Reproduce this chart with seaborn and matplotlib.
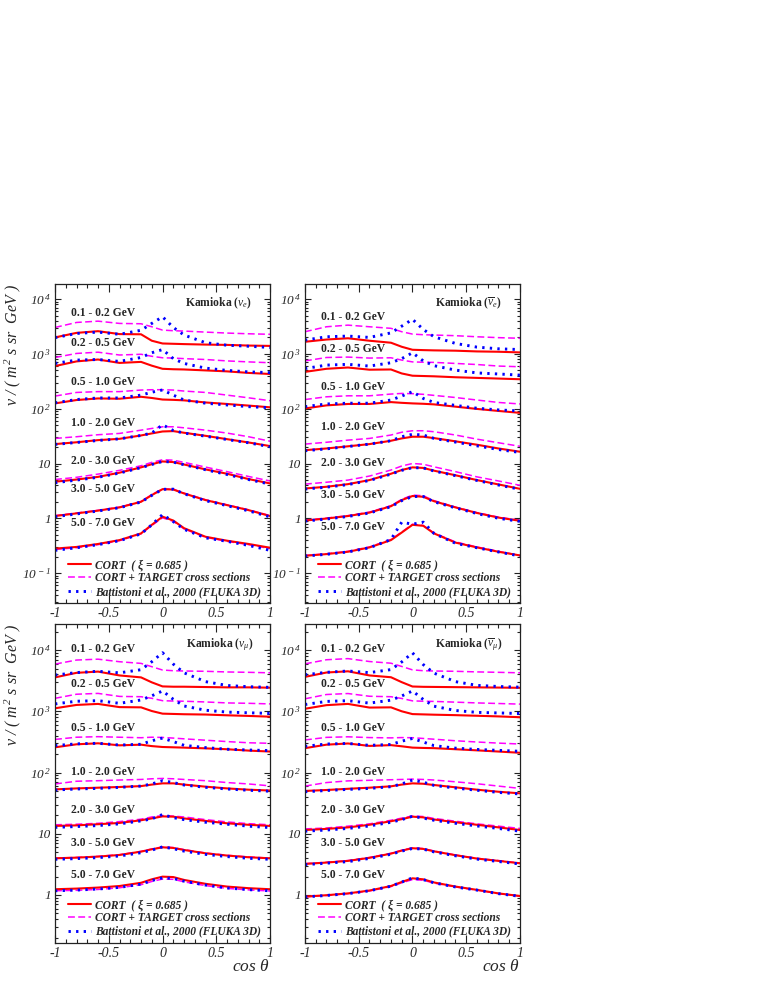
import numpy as np
import pandas as pd
import matplotlib
matplotlib.use('Agg')
import matplotlib.pyplot as plt
import seaborn as sns
from matplotlib.lines import Line2D
from matplotlib.ticker import MultipleLocator, LogLocator, FuncFormatter, NullFormatter

sns.set_theme(style='ticks')
plt.rcParams['font.family'] = ['Liberation Serif', 'DejaVu Serif']
plt.rcParams['font.style'] = 'italic'
plt.rcParams['axes.unicode_minus'] = False
plt.rcParams['mathtext.fontset'] = 'custom'
plt.rcParams['mathtext.rm'] = 'Liberation Serif:italic'
plt.rcParams['mathtext.it'] = 'Liberation Serif:italic'
plt.rcParams['mathtext.sf'] = 'Liberation Serif'
plt.rcParams['mathtext.bf'] = 'Liberation Serif:bold'

# cos(theta) grid and energy bins
cos_theta = [-1, -0.8, -0.6, -0.4, -0.2, -0.1, 0, 0.1, 0.2, 0.4, 0.6, 0.8, 1]
energy_bins = ['0.1 - 0.2 GeV', '0.2 - 0.5 GeV', '0.5 - 1.0 GeV', '1.0 - 2.0 GeV',
               '2.0 - 3.0 GeV', '3.0 - 5.0 GeV', '5.0 - 7.0 GeV']

# Kamioka nu_e
nue_cort = [
    [2000, 2420, 2600, 2300, 2280, 1740, 1550, 1530, 1510, 1480, 1460, 1420, 1400],
    [600, 730, 790, 685, 715, 610, 535, 525, 520, 500, 480, 450, 430],
    [125, 144, 154, 152, 165, 157, 147, 145, 142, 130, 122, 114, 106],
    [22.6, 24.4, 26.7, 28.2, 32.5, 35.4, 38.4, 39.0, 36.4, 32.0, 27.8, 24.2, 20.8],
    [4.65, 5.1, 5.7, 6.8, 8.5, 9.7, 10.9, 10.6, 9.6, 7.8, 6.5, 5.2, 4.33],
    [1.10, 1.23, 1.38, 1.58, 2.0, 2.65, 3.4, 3.35, 2.84, 2.15, 1.74, 1.41, 1.10],
    [0.28, 0.30, 0.34, 0.40, 0.53, 0.76, 1.07, 0.91, 0.66, 0.46, 0.39, 0.34, 0.29],
]
nue_target = [
    [3040, 3750, 3960, 3600, 3550, 3130, 2720, 2650, 2610, 2500, 2400, 2330, 2280],
    [860, 1020, 1075, 955, 985, 905, 850, 840, 820, 790, 745, 715, 690],
    [170, 198, 205, 205, 219, 222, 222, 219, 210, 198, 177, 158, 140],
    [28.7, 30.8, 33.5, 35.4, 40.6, 43.6, 46.8, 46.8, 44.8, 40.6, 35.9, 30.8, 25.5],
    [5.1, 5.6, 6.4, 7.5, 9.1, 10.5, 11.7, 11.5, 10.5, 8.6, 7.1, 5.8, 4.8],
    [1.12, 1.25, 1.4, 1.6, 2.03, 2.7, 3.45, 3.4, 2.88, 2.18, 1.76, 1.43, 1.12],
    [0.27, 0.29, 0.33, 0.39, 0.52, 0.74, 1.02, 0.88, 0.64, 0.45, 0.38, 0.33, 0.28],
]
nue_fluka = [
    [1980, 2360, 2500, 2280, 2700, 3600, 4760, 3040, 2210, 1600, 1440, 1380, 1310],
    [670, 771, 790, 730, 860, 1050, 1200, 820, 670, 550, 500, 470, 455],
    [128, 147, 157, 157, 177, 200, 220, 177, 144, 126, 117, 109, 104],
    [22.3, 24.2, 26.3, 28.2, 32.5, 35.9, 51, 40, 35.9, 31.5, 27.4, 23.9, 20.2],
    [4.45, 4.98, 5.6, 6.7, 8.4, 9.6, 10.9, 10.6, 9.5, 7.7, 6.3, 5.1, 4.2],
    [1.07, 1.2, 1.36, 1.56, 1.98, 2.62, 3.38, 3.4, 2.8, 2.1, 1.7, 1.37, 1.06],
    [0.26, 0.29, 0.33, 0.39, 0.52, 0.76, 1.17, 0.87, 0.63, 0.44, 0.38, 0.32, 0.26],
]

# Kamioka anti-nu_e
nuebar_cort = [
    [1665, 1830, 1930, 1740, 1600, 1350, 1190, 1173, 1160, 1145, 1110, 1095, 1065],
    [470, 535, 565, 515, 520, 440, 400, 395, 390, 375, 365, 355, 345],
    [101, 115, 122, 122, 132, 128, 125, 123, 120, 109, 99, 91, 84],
    [17.5, 18.8, 20.6, 22.6, 26.0, 28.7, 30.8, 30.8, 29.1, 25.4, 22.0, 18.8, 16.4],
    [3.5, 3.76, 4.2, 4.98, 6.5, 7.6, 8.5, 8.3, 7.4, 6.1, 4.98, 4.15, 3.45],
    [0.91, 0.99, 1.1, 1.27, 1.66, 2.15, 2.55, 2.47, 2.05, 1.58, 1.25, 1.03, 0.90],
    [0.207, 0.222, 0.245, 0.294, 0.40, 0.55, 0.76, 0.73, 0.53, 0.36, 0.294, 0.245, 0.21],
]
nuebar_target = [
    [2540, 3130, 3350, 3130, 2930, 2540, 2300, 2240, 2210, 2150, 2055, 1980, 1930],
    [745, 860, 875, 840, 850, 771, 715, 705, 700, 670, 640, 600, 583],
    [147, 165, 172, 172, 185, 190, 188, 183, 175, 160, 144, 130, 122],
    [22.6, 24.4, 26.7, 28.7, 33.1, 37.2, 39.6, 39.6, 38.0, 33.1, 27.8, 23.9, 20.6],
    [4.2, 4.55, 4.98, 5.9, 7.6, 9.0, 10.0, 9.7, 8.7, 7.1, 5.7, 4.8, 4.0],
    [0.93, 1.01, 1.12, 1.3, 1.7, 2.22, 2.65, 2.58, 2.1, 1.6, 1.27, 1.05, 0.92],
    [0.21, 0.225, 0.25, 0.3, 0.41, 0.56, 0.78, 0.74, 0.54, 0.37, 0.3, 0.25, 0.21],
]
nuebar_fluka = [
    [1785, 2055, 2115, 2000, 2420, 3210, 4280, 2800, 2055, 1553, 1330, 1240, 1200],
    [540, 625, 645, 600, 690, 820, 1050, 745, 610, 506, 450, 430, 410],
    [109, 122, 126, 126, 144, 170, 205, 154, 130, 115, 102, 95, 91],
    [17.1, 18.5, 20.4, 22.6, 26.0, 30.8, 34.1, 33.1, 28.7, 24.6, 21.0, 18.0, 15.9],
    [3.42, 3.7, 4.12, 4.9, 6.4, 7.5, 8.4, 8.3, 7.3, 6.0, 4.9, 4.05, 3.38],
    [0.89, 0.97, 1.08, 1.25, 1.63, 2.1, 2.5, 2.5, 2.0, 1.55, 1.22, 1.0, 0.88],
    [0.205, 0.22, 0.243, 0.29, 0.41, 0.85, 0.78, 0.85, 0.53, 0.35, 0.29, 0.243, 0.205],
]

# Kamioka nu_mu
numu_cort = [
    [3580, 4250, 4450, 3850, 3580, 2970, 2550, 2520, 2520, 2490, 2460, 2460, 2430],
    [1120, 1270, 1320, 1170, 1160, 1010, 915, 905, 895, 885, 860, 840, 816],
    [258, 289, 300, 278, 285, 270, 261, 258, 255, 248, 240, 228, 220],
    [53, 55, 56.5, 58, 60, 63.5, 66.5, 66.5, 63.5, 58.7, 55, 52.4, 50.8],
    [13.4, 13.7, 14.3, 15.0, 16.6, 17.8, 19.2, 19.0, 17.8, 16.2, 14.8, 14.0, 13.4],
    [3.97, 4.07, 4.23, 4.5, 5.1, 5.57, 6.0, 5.86, 5.43, 4.79, 4.4, 4.13, 3.97],
    [1.24, 1.27, 1.32, 1.40, 1.58, 1.80, 1.99, 1.96, 1.76, 1.52, 1.37, 1.29, 1.24],
]
numu_target = [
    [5900, 6870, 7100, 6450, 6060, 5350, 4720, 4600, 4550, 4500, 4390, 4330, 4250],
    [1630, 1900, 1960, 1750, 1730, 1630, 1490, 1470, 1460, 1420, 1370, 1350, 1320],
    [347, 377, 385, 377, 370, 377, 374, 365, 355, 337, 320, 306, 300],
    [65, 72, 73.5, 75.4, 77, 79, 80, 79, 77, 73.5, 68.5, 65, 60.5],
    [14.0, 14.3, 14.8, 15.8, 17.3, 18.8, 19.8, 19.4, 18.8, 17.0, 15.6, 14.6, 14.0],
    [4.0, 4.1, 4.27, 4.55, 5.15, 5.65, 6.1, 5.95, 5.5, 4.85, 4.45, 4.17, 4.0],
    [1.17, 1.19, 1.23, 1.31, 1.47, 1.66, 1.82, 1.8, 1.64, 1.42, 1.28, 1.21, 1.16],
]
numu_fluka = [
    [3900, 4290, 4500, 4250, 4780, 6450, 9060, 5900, 4250, 3050, 2640, 2520, 2460],
    [1320, 1460, 1490, 1350, 1530, 1790, 2150, 1570, 1220, 1040, 970, 945, 925],
    [275, 294, 300, 281, 289, 330, 365, 320, 278, 255, 240, 233, 228],
    [51.8, 53.8, 55, 57.3, 60, 65, 73.5, 68.5, 62.5, 57.3, 53.8, 51.3, 49.5],
    [12.7, 13.1, 13.6, 14.5, 16.2, 17.5, 20.6, 18.3, 17.0, 15.4, 14.3, 13.3, 12.6],
    [3.82, 3.92, 4.07, 4.33, 4.9, 5.4, 6.1, 5.7, 5.2, 4.6, 4.23, 3.97, 3.82],
    [1.17, 1.2, 1.25, 1.33, 1.5, 1.72, 1.9, 1.86, 1.68, 1.45, 1.3, 1.22, 1.17],
]

# Kamioka anti-nu_mu
numubar_cort = [
    [3650, 4300, 4500, 3850, 3600, 2990, 2540, 2510, 2500, 2480, 2460, 2440, 2420],
    [1100, 1260, 1320, 1150, 1160, 1000, 900, 890, 880, 865, 845, 825, 800],
    [250, 285, 298, 272, 280, 268, 255, 252, 250, 240, 230, 220, 210],
    [50, 51.8, 54.2, 56.5, 59.5, 63.5, 66.5, 65.5, 62.5, 57.3, 52.4, 48.5, 45.7],
    [11.5, 12.0, 12.7, 14.0, 16.0, 17.3, 19.0, 18.5, 17.1, 15.4, 14.0, 12.7, 11.5],
    [3.21, 3.38, 3.6, 4.04, 4.73, 5.3, 5.8, 5.65, 5.16, 4.46, 3.93, 3.6, 3.29],
    [0.94, 0.99, 1.06, 1.18, 1.40, 1.63, 1.87, 1.80, 1.60, 1.37, 1.21, 1.06, 0.96],
]
numubar_target = [
    [5950, 6950, 7250, 6500, 6100, 5400, 4750, 4600, 4550, 4500, 4400, 4330, 4250],
    [1600, 1880, 1950, 1760, 1730, 1620, 1480, 1460, 1450, 1410, 1370, 1340, 1310],
    [340, 375, 383, 372, 368, 372, 370, 360, 350, 330, 315, 302, 292],
    [60, 68.5, 73, 74.6, 76.2, 77, 78, 77, 75.4, 70.5, 65.5, 60, 55],
    [12.0, 12.4, 13.3, 14.5, 16.6, 18.0, 19.5, 19.1, 17.8, 16.0, 14.5, 13.3, 12.2],
    [3.25, 3.42, 3.65, 4.1, 4.8, 5.38, 5.9, 5.72, 5.22, 4.5, 3.97, 3.64, 3.33],
    [0.93, 0.98, 1.05, 1.16, 1.37, 1.58, 1.78, 1.74, 1.56, 1.35, 1.2, 1.05, 0.95],
]
numubar_fluka = [
    [3950, 4330, 4550, 4280, 4800, 6400, 9000, 5800, 4200, 3050, 2650, 2540, 2480],
    [1290, 1450, 1490, 1360, 1520, 1780, 2150, 1560, 1210, 1030, 960, 940, 920],
    [268, 292, 298, 278, 287, 325, 360, 315, 275, 250, 238, 230, 222],
    [48.5, 50.8, 53, 55, 58.7, 65, 75.4, 69.5, 61.6, 55.7, 51.3, 47.3, 44.6],
    [11.0, 11.5, 12.2, 13.4, 15.4, 17.0, 19.3, 18.0, 16.6, 14.8, 13.4, 12.2, 11.0],
    [3.13, 3.3, 3.5, 3.95, 4.62, 5.2, 5.75, 5.6, 5.05, 4.36, 3.85, 3.52, 3.2],
    [0.93, 0.98, 1.05, 1.17, 1.39, 1.62, 1.9, 1.78, 1.58, 1.35, 1.2, 1.05, 0.95],
]

legend_labels = ['CORT  ( ξ = 0.685 )', 'CORT + TARGET cross sections',
                 'Battistoni et al., 2000 (FLUKA 3D)']

RED = '#ff0000'
MAG = '#ff00ff'
BLUE = '#0000ff'
DASH = (0, (4.5, 2.2))
DOTS = (0, (0.8, 1.8))


def to_frame(table):
    rows = []
    for b, vals in zip(energy_bins, table):
        for c, v in zip(cos_theta, vals):
            rows.append((b, c, v))
    return pd.DataFrame(rows, columns=['bin', 'cos', 'flux'])


def ytick_label(v, pos):
    k = int(round(np.log10(v)))
    if k == 0:
        return '1'
    if k == 1:
        return '10'
    return r'$10^{\,%d}$' % k


def draw_panel(ax, cort, target, fluka, ylim, title, text_y, title_xy, left):
    ax.set_yscale('log')
    sns.lineplot(data=to_frame(target), x='cos', y='flux', units='bin', estimator=None,
                 color=MAG, lw=1.1, linestyle=DASH, ax=ax, legend=False)
    sns.lineplot(data=to_frame(cort), x='cos', y='flux', units='bin', estimator=None,
                 color=RED, lw=1.5, ax=ax, legend=False)
    sns.lineplot(data=to_frame(fluka), x='cos', y='flux', units='bin', estimator=None,
                 color=BLUE, lw=2.1, linestyle=DOTS, ax=ax, legend=False)

    ax.set_xlim(-1, 1)
    ax.set_ylim(*ylim)
    ax.xaxis.set_major_locator(MultipleLocator(0.5))
    ax.xaxis.set_minor_locator(MultipleLocator(0.1))
    ax.xaxis.set_major_formatter(FuncFormatter(lambda v, p: f'{v:g}'))
    ax.yaxis.set_major_locator(LogLocator(base=10, numticks=20))
    ax.yaxis.set_minor_locator(LogLocator(base=10, subs=np.arange(2, 10), numticks=100))
    ax.yaxis.set_major_formatter(FuncFormatter(ytick_label))
    ax.yaxis.set_minor_formatter(NullFormatter())
    ax.tick_params(which='both', direction='in', top=True, right=True,
                   color='#222222', width=0.8)
    ax.tick_params(axis='x', which='major', length=5.5, pad=3, labelsize=10)
    ax.tick_params(axis='x', which='minor', length=3)
    ax.tick_params(axis='y', which='major', length=4, pad=3, labelsize=9.5)
    ax.tick_params(axis='y', which='minor', length=2)
    for sp in ax.spines.values():
        sp.set_color('#222222')
        sp.set_linewidth(0.9)

    ax.set_xlabel('')
    ax.set_ylabel('')
    for b, y in zip(energy_bins, text_y):
        ax.text(0.073, y, b, transform=ax.transAxes, fontsize=8.4, fontweight='bold',
                fontstyle='normal', ha='left', va='center')
    ax.text(title_xy[0], title_xy[1], title, transform=ax.transAxes, fontsize=8.4,
            fontweight='bold', fontstyle='normal', ha='right', va='center')

    handles = [Line2D([], [], color=RED, lw=1.5),
               Line2D([], [], color=MAG, lw=1.1, linestyle=DASH),
               Line2D([], [], color=BLUE, lw=2.1, linestyle=DOTS)]
    ax.legend(handles, legend_labels, loc='upper left', bbox_to_anchor=(0.035, 0.156),
              frameon=False, borderpad=0, labelspacing=0.12, handlelength=2.0,
              handletextpad=0.3, prop=dict(size=8.3, weight='bold', style='italic'))

    if left:
        ax.set_ylabel(r'$\mathsf{\nu}$ / ( m$^{\,2}$ s sr  GeV )', fontsize=11.5, loc='top')
        ax.yaxis.set_label_coords(-0.15, 1.0)


fig = plt.figure(figsize=(7.59, 9.82), dpi=100)
w, h = 0.2833, 0.3248
ax_tl = fig.add_axes([0.0725, 0.3859, w, h])
ax_tr = fig.add_axes([0.4018, 0.3859, w, h])
ax_bl = fig.add_axes([0.0725, 0.0397, w, h])
ax_br = fig.add_axes([0.4018, 0.0397, w, h])

top_lim = (0.0284, 18800)
bot_lim = (0.164, 26600)

draw_panel(ax_tl, nue_cort, nue_target, nue_fluka, top_lim,
           r'Kamioka ($\mathsf{\nu}_{e}$)',
           [0.909, 0.815, 0.693, 0.564, 0.445, 0.357, 0.251], (0.915, 0.941), True)
draw_panel(ax_tr, nuebar_cort, nuebar_target, nuebar_fluka, top_lim,
           r'Kamioka ($\overline{\mathsf{\nu}}_{e}$)',
           [0.897, 0.796, 0.677, 0.552, 0.439, 0.339, 0.238], (0.915, 0.941), False)
draw_panel(ax_bl, numu_cort, numu_target, numu_fluka, bot_lim,
           r'Kamioka ($\mathsf{\nu}_{\mathsf{\mu}}$)',
           [0.922, 0.812, 0.674, 0.536, 0.417, 0.313, 0.213], (0.921, 0.937), True)
draw_panel(ax_br, numubar_cort, numubar_target, numubar_fluka, bot_lim,
           r'Kamioka ($\overline{\mathsf{\nu}}_{\mathsf{\mu}}$)',
           [0.922, 0.812, 0.674, 0.536, 0.417, 0.313, 0.213], (0.921, 0.937), False)

for ax in (ax_bl, ax_br):
    ax.set_xlabel(r'cos $\mathsf{\theta}$', fontsize=12.5, loc='right')
    ax.xaxis.set_label_coords(1.0, -0.05)

fig.savefig('out.png', dpi=100, facecolor='white')
